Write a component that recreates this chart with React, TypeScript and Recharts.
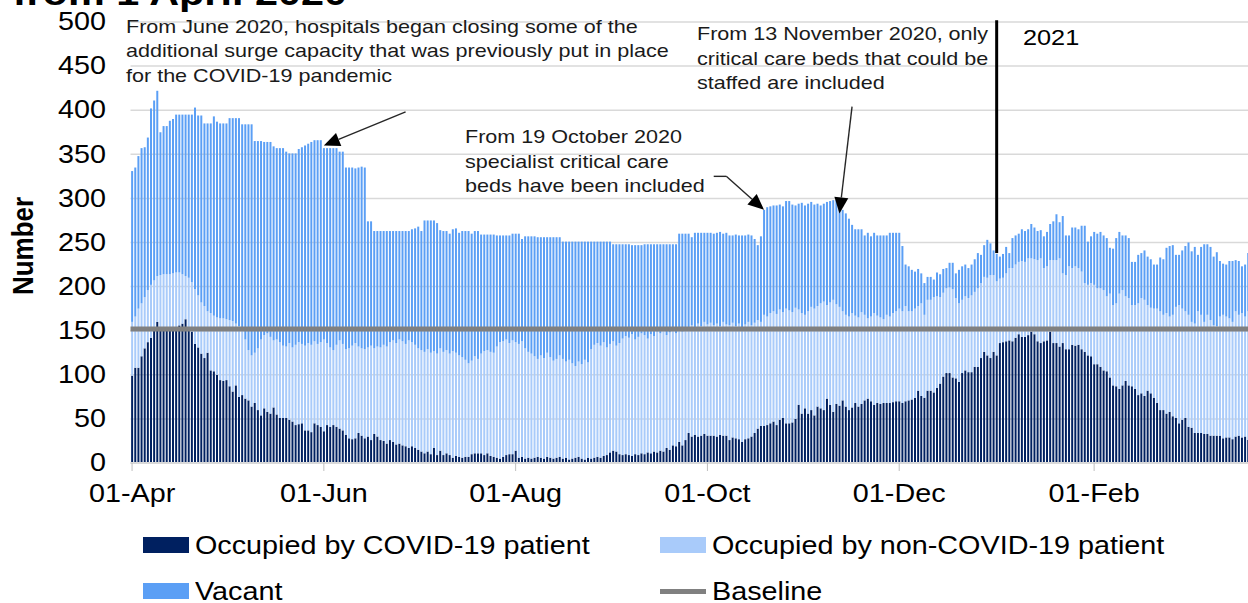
import { BarChart, Bar, XAxis, YAxis, CartesianGrid, ReferenceLine } from "recharts";

const FONT = '"Liberation Sans", Arial, Helvetica, sans-serif';
const STRETCH = 1.15;

// daily values, first day is 1 April 2020
const covidPatients = [
  99, 108, 108, 121, 130, 137, 142, 150, 160, 152,
  150, 151, 153, 152, 154, 156, 158, 163, 150, 149,
  135, 131, 124, 119, 125, 105, 104, 100, 94, 93,
  94, 87, 81, 88, 75, 77, 73, 71, 64, 68,
  60, 54, 62, 58, 56, 63, 55, 51, 51, 51,
  49, 47, 43, 44, 45, 37, 37, 35, 45, 43,
  41, 36, 43, 41, 43, 41, 39, 37, 32, 28,
  27, 28, 34, 31, 28, 30, 26, 33, 30, 26,
  25, 22, 26, 24, 21, 22, 20, 19, 17, 19,
  17, 15, 13, 11, 13, 10, 17, 9, 14, 9,
  11, 9, 6, 8, 7, 6, 7, 7, 10, 11,
  11, 11, 9, 11, 8, 7, 6, 5, 7, 9,
  10, 10, 14, 6, 7, 5, 6, 5, 6, 7,
  6, 5, 7, 6, 5, 6, 7, 5, 6, 4,
  5, 6, 7, 5, 4, 6, 5, 6, 7, 6,
  8, 9, 12, 14, 13, 10, 9, 10, 9, 8,
  10, 9, 11, 10, 12, 11, 13, 12, 14, 13,
  17, 15, 20, 19, 24, 20, 26, 34, 30, 32,
  30, 31, 33, 31, 31, 31, 30, 32, 31, 31,
  26, 29, 28, 27, 24, 27, 28, 30, 34, 39,
  42, 42, 43, 45, 47, 43, 49, 51, 45, 45,
  46, 50, 66, 56, 62, 56, 60, 54, 64, 62,
  60, 73, 66, 58, 67, 65, 71, 64, 60, 63,
  68, 64, 67, 71, 73, 70, 66, 68, 67, 68,
  68, 68, 69, 70, 70, 68, 70, 71, 72, 74,
  82, 76, 74, 82, 82, 80, 85, 90, 98, 102,
  102, 97, 96, 92, 102, 105, 103, 103, 109, 109,
  119, 126, 122, 119, 126, 122, 136, 137, 138, 139,
  138, 142, 146, 143, 143, 145, 149, 146, 138, 136,
  138, 139, 149, 136, 136, 132, 136, 129, 129, 134,
  133, 134, 129, 126, 122, 121, 112, 112, 109, 105,
  104, 97, 88, 87, 84, 88, 93, 88, 87, 84,
  77, 79, 76, 82, 79, 74, 68, 60, 60, 56,
  58, 53, 51, 45, 49, 51, 41, 40, 34, 34,
  34, 33, 33, 31, 31, 31, 31, 28, 29, 29,
  27, 30, 31, 29, 30, 26,
];

// all occupied beds (COVID-19 + non-COVID-19)
const occupiedBeds = [
  160, 166, 175, 181, 188, 196, 202, 207, 212, 213,
  214, 214, 214, 215, 216, 216, 214, 212, 210, 205,
  197, 190, 182, 178, 172, 170, 167, 165, 164, 164,
  163, 162, 161, 158, 155, 150, 140, 128, 122, 125,
  130, 140, 145, 147, 143, 139, 140, 137, 133, 132,
  136, 131, 134, 137, 135, 133, 136, 134, 138, 135,
  137, 140, 136, 131, 128, 134, 139, 135, 129, 130,
  133, 136, 132, 130, 129, 131, 133, 130, 132, 131,
  134, 132, 137, 139, 136, 140, 138, 135, 139, 137,
  134, 130, 128, 126, 129, 125, 127, 124, 130, 126,
  128, 124, 127, 125, 122, 120, 117, 113, 116, 121,
  118, 124, 127, 128, 126, 125, 132, 137, 138, 140,
  136, 139, 137, 135, 138, 130, 126, 124, 121, 118,
  122, 119, 125, 120, 116, 118, 122, 118, 115, 117,
  113, 110, 115, 112, 117, 114, 129, 134, 136, 133,
  137, 131, 135, 138, 133, 136, 141, 144, 142, 146,
  140, 143, 147, 145, 141, 146, 144, 149, 147, 150,
  145, 148, 151, 147, 153, 149, 152, 150, 156, 154,
  158, 155, 160, 157, 159, 156, 158, 155, 160, 157,
  156, 159, 155, 158, 154, 157, 160, 156, 159, 162,
  160, 168, 166, 170, 172, 169, 174, 171, 175, 173,
  171, 176, 174, 170, 168, 172, 177, 175, 178, 181,
  183, 179, 182, 185, 180, 177, 172, 168, 166, 170,
  167, 165, 171, 168, 164, 166, 170, 167, 165, 163,
  168, 166, 170, 172, 175, 172, 178, 172, 172, 175,
  178, 181, 168, 185, 185, 188, 189, 188, 193, 198,
  199, 197, 187, 181, 185, 189, 187, 190, 194, 198,
  204, 211, 210, 213, 213, 206, 209, 210, 215, 221,
  221, 225, 228, 229, 228, 232, 232, 231, 230, 232,
  221, 223, 230, 230, 230, 232, 215, 213, 223, 221,
  223, 221, 217, 204, 202, 204, 202, 198, 198, 196,
  189, 192, 179, 181, 192, 196, 189, 187, 179, 179,
  181, 187, 185, 179, 176, 175, 175, 172, 168, 170,
  166, 168, 177, 179, 175, 172, 168, 160, 158, 172,
  168, 160, 168, 162, 156, 155, 166, 168, 166, 164,
  160, 172, 168, 170, 166, 172,
];

// total critical care beds (occupied + vacant)
const totalBeds = [
  331, 335, 348, 357, 358, 369, 402, 411, 422, 375,
  382, 382, 388, 390, 395, 395, 395, 395, 395, 395,
  403, 394, 394, 385, 385, 385, 393, 387, 385, 385,
  385, 391, 391, 391, 391, 384, 384, 384, 384, 365,
  365, 365, 364, 364, 364, 359, 357, 357, 357, 353,
  351, 351, 351, 356, 358, 360, 362, 364, 366, 366,
  366, 357, 357, 357, 357, 357, 353, 353, 335, 335,
  335, 334, 335, 336, 335, 274, 274, 263, 263, 263,
  263, 263, 263, 263, 263, 263, 263, 263, 263, 265,
  266, 268, 263, 275, 275, 275, 275, 272, 264, 263,
  263, 260, 265, 266, 261, 263, 263, 263, 260, 263,
  263, 259, 259, 259, 259, 259, 258, 258, 258, 258,
  258, 260, 260, 260, 254, 257, 257, 257, 257, 256,
  256, 256, 256, 256, 256, 256, 256, 251, 251, 251,
  251, 251, 251, 251, 251, 251, 251, 251, 251, 251,
  251, 251, 251, 248, 248, 248, 248, 248, 248, 247,
  247, 247, 247, 248, 248, 248, 248, 248, 248, 248,
  248, 248, 248, 248, 260, 260, 260, 260, 256, 261,
  261, 261, 261, 261, 261, 260, 261, 262, 260, 261,
  258, 258, 259, 258, 258, 258, 259, 258, 254, 247,
  257, 287, 290, 291, 292, 292, 293, 291, 297, 297,
  293, 292, 294, 295, 292, 294, 296, 293, 294, 292,
  294, 296, 297, 298, 298, 289, 287, 283, 277, 270,
  265, 265, 265, 258, 261, 257, 261, 258, 258, 258,
  258, 261, 261, 261, 261, 246, 225, 223, 219, 217,
  220, 215, 204, 211, 211, 208, 216, 214, 220, 221,
  227, 227, 215, 219, 223, 225, 221, 225, 231, 238,
  236, 247, 253, 249, 241, 237, 234, 237, 245, 238,
  255, 258, 260, 265, 263, 265, 271, 267, 263, 264,
  257, 262, 271, 274, 282, 273, 280, 258, 258, 267,
  267, 265, 269, 269, 251, 257, 262, 260, 262, 258,
  255, 244, 243, 255, 262, 258, 258, 255, 228, 228,
  236, 238, 241, 234, 231, 225, 225, 233, 231, 244,
  246, 247, 236, 236, 241, 246, 250, 240, 245, 236,
  245, 248, 248, 245, 234, 239, 229, 226, 225, 229,
  229, 230, 229, 223, 225, 238,
];

const baseline = 152;

const monthTicks = ["2020-04-01", "2020-06-01", "2020-08-01", "2020-10-01", "2020-12-01", "2021-02-01"];
const monthTickLabels = ["01-Apr", "01-Jun", "01-Aug", "01-Oct", "01-Dec", "01-Feb"];
const yTicks = [0, 50, 100, 150, 200, 250, 300, 350, 400, 450, 500];

const dayKey = (i: number) => new Date(Date.UTC(2020, 3, 1 + i)).toISOString().slice(0, 10);

const data = totalBeds.map((total, i) => ({
  day: dayKey(i),
  covid: covidPatients[i],
  nonCovid: occupiedBeds[i] - covidPatients[i],
  vacant: total - occupiedBeds[i],
}));

// annotation arrows, in chart values
const arrows = [
  { from: { x: "2020-06-27", y: 398 }, to: { x: "2020-06-01", y: 360 }, head: true },
  { from: { x: "2020-10-03", y: 325 }, to: { x: "2020-10-07", y: 325 }, head: false },
  { from: { x: "2020-10-07", y: 325 }, to: { x: "2020-10-19", y: 287 }, head: true },
  { from: { x: "2020-11-16", y: 404 }, to: { x: "2020-11-12", y: 283 }, head: true },
];

const notes = [
  { x: 126, y: 32.7, lines: ["From June 2020, hospitals began closing some of the", "additional surge capacity that was previously put in place", "for the COVID-19 pandemic"] },
  { x: 697, y: 40, lines: ["From 13 November 2020, only", "critical care beds that could be", "staffed are included"] },
  { x: 465, y: 143, lines: ["From 19 October 2020", "specialist critical care", "beds have been included"] },
];

const legendItems = [
  { label: "Occupied by COVID-19 patient", color: "#002060", kind: "box", left: 143, top: 545 },
  { label: "Occupied by non-COVID-19 patient", color: "#a9cbfa", kind: "box", left: 660, top: 545 },
  { label: "Vacant", color: "#5b9ff5", kind: "box", left: 143, top: 591 },
  { label: "Baseline", color: "#808080", kind: "line", left: 660, top: 591 },
];

function arrowShape(p: any, head: boolean) {
  const { x1, y1, x2, y2 } = p;
  const dx = x2 - x1;
  const dy = y2 - y1;
  const len = Math.hypot(dx, dy) || 1;
  const ux = dx / len;
  const uy = dy / len;
  const hl = head ? 16 : 0;
  const hw = 7;
  const bx = x2 - ux * hl;
  const by = y2 - uy * hl;
  return (
    <g>
      <line x1={x1} y1={y1} x2={bx} y2={by} stroke="#262626" strokeWidth={1.4} />
      {head && (
        <polygon
          points={`${x2},${y2} ${bx - uy * hw},${by + ux * hw} ${bx + uy * hw},${by - ux * hw}`}
          fill="#000"
        />
      )}
    </g>
  );
}

function XTick({ x, y, payload }: any) {
  const i = monthTicks.indexOf(payload.value);
  return (
    <text
      transform={`translate(${x},${y}) scale(${STRETCH},1)`}
      textAnchor="middle"
      dy="0.71em"
      fontSize={25}
      fontFamily={FONT}
      fill="#000"
    >
      {monthTickLabels[i]}
    </text>
  );
}

function YTick({ x, y, payload }: any) {
  return (
    <text
      transform={`translate(${x},${y}) scale(${STRETCH},1)`}
      textAnchor="end"
      dy="0.33em"
      fontSize={25}
      fontFamily={FONT}
      fill="#000"
    >
      {payload.value}
    </text>
  );
}

export default function App() {
  return (
    <div
      style={{
        position: "absolute",
        left: 0,
        top: 0,
        width: 1248,
        height: 603,
        overflow: "hidden",
        background: "#fff",
        fontFamily: FONT,
      }}
    >
      <BarChart
        width={1252}
        height={603}
        data={data}
        margin={{ top: 22, right: 2.24, bottom: 80, left: 50.5 }}
        barCategoryGap="20%"
      >
        <CartesianGrid vertical={false} stroke="#d9d9d9" strokeWidth={1.5} />
        <XAxis
          dataKey="day"
          ticks={monthTicks}
          interval={0}
          tick={(p: any) => <XTick {...p} />}
          tickSize={8}
          tickMargin={13}
          height={60}
          axisLine={{ stroke: "#d9d9d9", strokeWidth: 2 }}
          tickLine={{ stroke: "#bfbfbf" }}
        />
        <YAxis
          domain={[0, 500]}
          ticks={yTicks}
          interval={0}
          width={80}
          axisLine={false}
          tickLine={false}
          tickMargin={18.5}
          tick={(p: any) => <YTick {...p} />}
        />
        <Bar dataKey="covid" stackId="beds" fill="#002060" isAnimationActive={false} />
        <Bar dataKey="nonCovid" stackId="beds" fill="#a9cbfa" isAnimationActive={false} />
        <Bar dataKey="vacant" stackId="beds" fill="#5b9ff5" isAnimationActive={false} />
        <ReferenceLine y={baseline} stroke="#808080" strokeWidth={5} />
        <ReferenceLine
          segment={[{ x: "2021-01-01", y: 238 }, { x: "2021-01-01", y: 502 }]}
          stroke="#000"
          strokeWidth={3}
          ifOverflow="visible"
        />
        {arrows.map((a, i) => (
          <ReferenceLine
            key={i}
            segment={[a.from, a.to]}
            ifOverflow="visible"
            shape={(p: any) => arrowShape(p, a.head)}
          />
        ))}
      </BarChart>

      <svg width={1248} height={603} style={{ position: "absolute", left: 0, top: 0, pointerEvents: "none" }}>
        <text
          transform={`translate(347,5) scale(${STRETCH},1)`}
          textAnchor="end"
          fontSize={36}
          fontWeight="bold"
          fontFamily={FONT}
          fill="#000"
        >
          from 1 April 2020
        </text>
        <text
          transform={`translate(33,246) scale(${STRETCH},1) rotate(-90)`}
          textAnchor="middle"
          fontSize={26}
          fontWeight="bold"
          fontFamily={FONT}
          fill="#000"
        >
          Number
        </text>
        {notes.map((n, i) => (
          <g key={i} transform={`translate(${n.x},${n.y}) scale(1.16,1)`}>
            {n.lines.map((line, j) => (
              <text key={j} x={0} y={j * 24.6} fontSize={18.6} fontFamily={FONT} fill="#1a1a1a">
                {line}
              </text>
            ))}
          </g>
        ))}
        <text
          transform={`translate(1023,45) scale(${STRETCH},1)`}
          fontSize={22}
          fontFamily={FONT}
          fill="#000"
        >
          2021
        </text>
      </svg>

      {legendItems.map((item) => (
        <div
          key={item.label}
          style={{
            position: "absolute",
            left: item.left,
            top: item.top - 15,
            height: 30,
            display: "flex",
            alignItems: "center",
            whiteSpace: "nowrap",
          }}
        >
          <div
            style={{
              width: 46,
              height: item.kind === "box" ? 16 : 5,
              background: item.color,
              marginRight: 6,
            }}
          />
          <span
            style={{
              fontSize: 25,
              color: "#000",
              display: "inline-block",
              transform: `scaleX(${STRETCH})`,
              transformOrigin: "left center",
            }}
          >
            {item.label}
          </span>
        </div>
      ))}
    </div>
  );
}
